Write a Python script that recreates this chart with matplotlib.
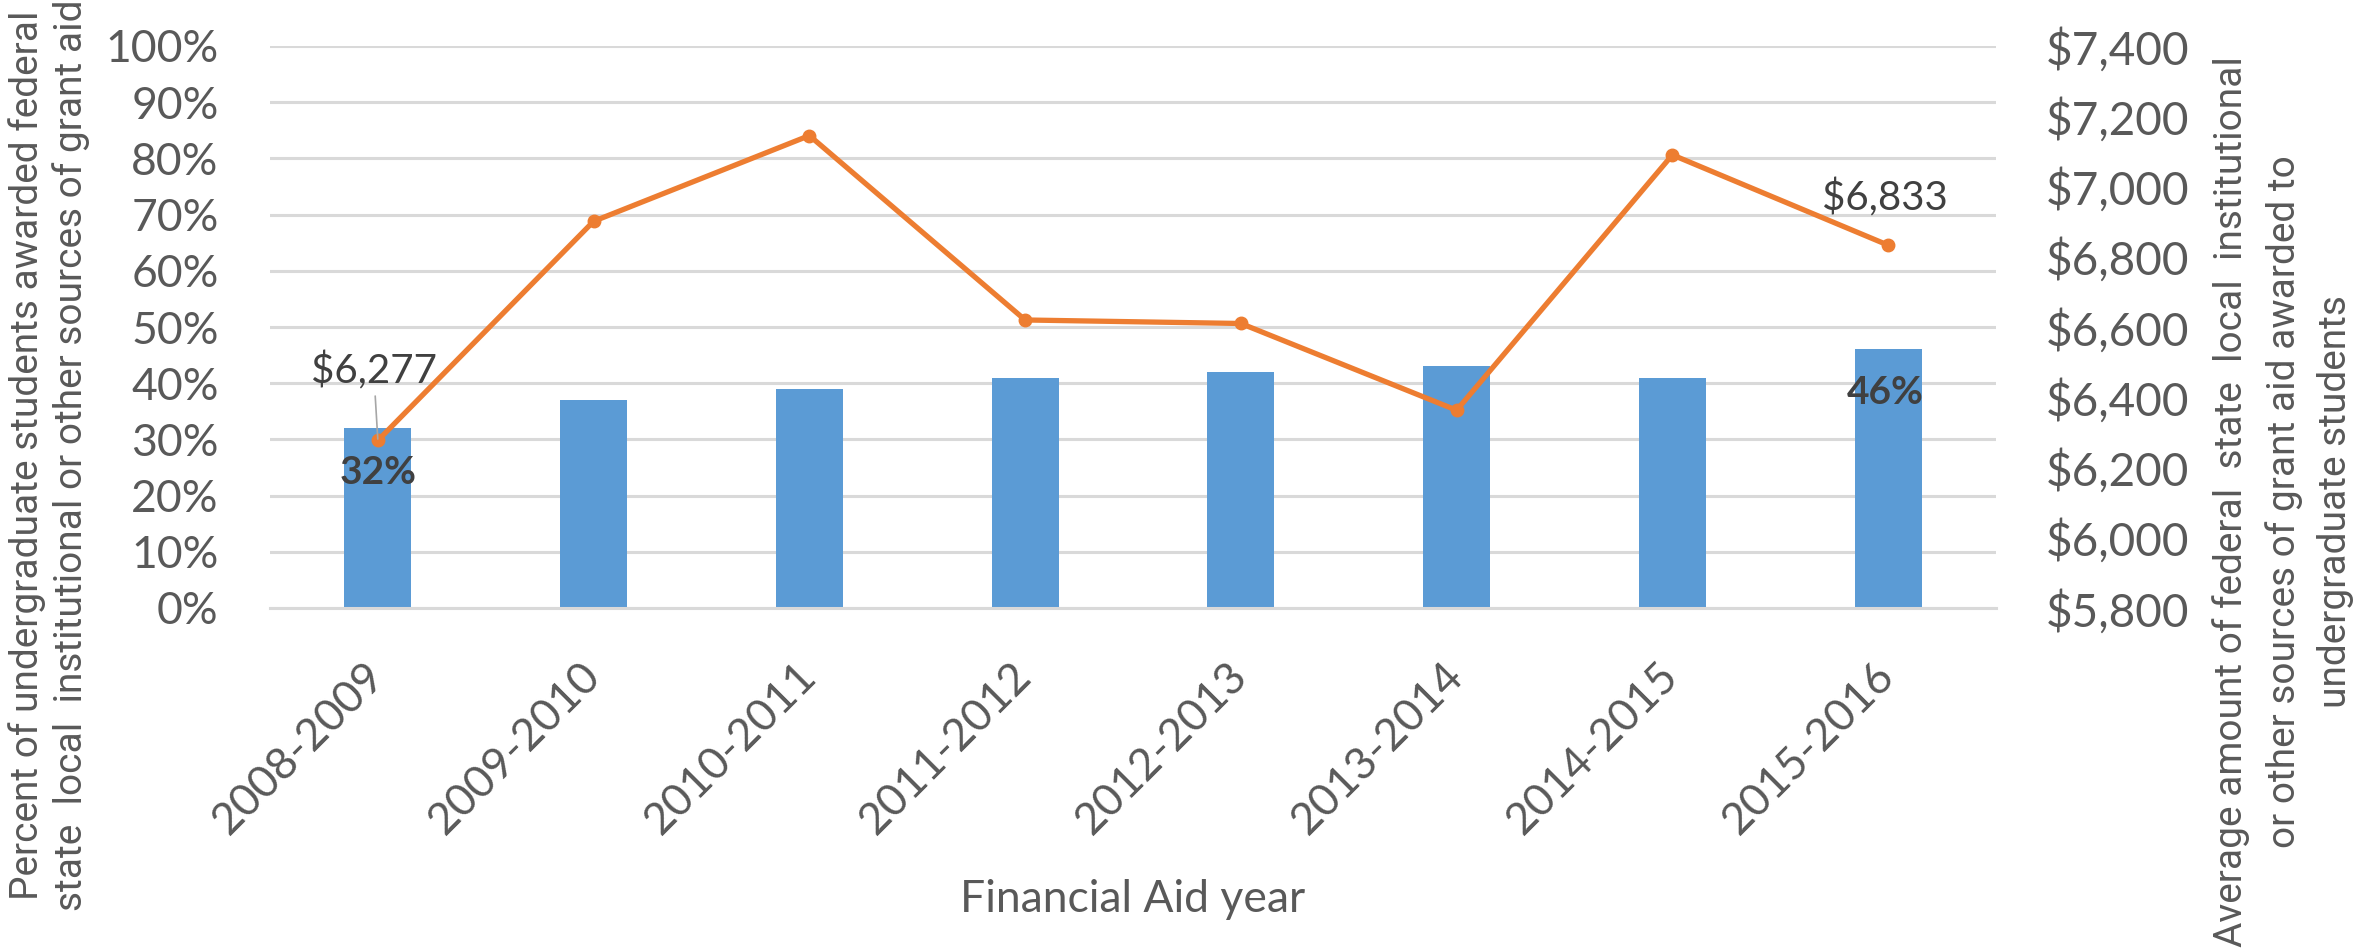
import matplotlib
matplotlib.use('Agg')
import matplotlib.pyplot as plt
from matplotlib.ticker import FixedLocator, FuncFormatter

years = ['2008-2009', '2009-2010', '2010-2011', '2011-2012',
         '2012-2013', '2013-2014', '2014-2015', '2015-2016']
pct_awarded = [32, 37, 39, 41, 42, 43, 41, 46]
avg_amount = [6277, 6901, 7145, 6620, 6610, 6363, 7090, 6833]
pct_ticks = [0, 10, 20, 30, 40, 50, 60, 70, 80, 90, 100]
amount_ticks = [5800, 6000, 6200, 6400, 6600, 6800, 7000, 7200, 7400]

xlabel = 'Financial Aid year'
ylabel_left = ('Percent of undergraduate students awarded federal\n'
               'state  local  institutional or other sources of grant aid')
ylabel_right = ('Average amount of federal  state  local  institutional\n'
                'or other sources of grant aid awarded to\n'
                'undergraduate students')

BAR = '#5B9BD5'
LINE = '#ED7D31'
TICK = '#595959'
LAB = '#404040'
GRID = '#D9D9D9'
FONT = ['Lato', 'DejaVu Sans']
NARROW = ['Liberation Sans Narrow', 'Roboto', 'DejaVu Sans']

plt.rcParams['font.family'] = FONT

fig = plt.figure(figsize=(23.56, 9.52), dpi=100)
ax = fig.add_axes([270 / 2356, 1 - 608 / 952, 1726 / 2356, 562 / 952])
ax2 = ax.twinx()

x = list(range(len(years)))
ax.bar(x, pct_awarded, width=0.31, color=BAR, zorder=2)
ax.set_xlim(-0.5, len(years) - 0.5)
ax.set_ylim(0, 100)
ax.yaxis.set_major_locator(FixedLocator(pct_ticks))
ax.yaxis.set_major_formatter(FuncFormatter(lambda v, p: f'{v:.0f}%'))
ax.grid(axis='y', color=GRID, linewidth=2.2, zorder=0)
ax.set_axisbelow(True)
for s in ['top', 'right', 'left']:
    ax.spines[s].set_visible(False)
ax.spines['bottom'].set_color(GRID)
ax.spines['bottom'].set_linewidth(2.2)
for s in ax2.spines.values():
    s.set_visible(False)

ax.set_xticks(x)
ax.set_xticklabels(years, rotation=45, ha='right', va='center',
                   rotation_mode='anchor')
ax.tick_params(axis='x', length=0, pad=44, labelsize=32, labelcolor=TICK)
ax.tick_params(axis='y', length=0, pad=37, labelsize=32, labelcolor=TICK)

ax2.plot(x, avg_amount, color=LINE, linewidth=3.8, marker='o',
         markersize=9, zorder=3)
ax2.set_ylim(amount_ticks[0], amount_ticks[-1])
ax2.yaxis.set_major_locator(FixedLocator(amount_ticks))
ax2.yaxis.set_major_formatter(FuncFormatter(lambda v, p: f'${v:,.0f}'))
ax2.tick_params(axis='y', length=0, pad=36, labelsize=33, labelcolor=TICK)

# data labels (first and last)
ax2.annotate(f'${avg_amount[0]:,}', xy=(x[0], avg_amount[0]),
             xytext=(-3, 50), textcoords='offset points',
             ha='center', va='center', fontsize=29, color=LAB,
             arrowprops=dict(arrowstyle='-', color='#A6A6A6', lw=1.2,
                             shrinkA=2, shrinkB=1))
ax2.annotate(f'${avg_amount[-1]:,}', xy=(x[-1], avg_amount[-1]),
             xytext=(-2, 34), textcoords='offset points',
             ha='center', va='center', fontsize=29, color=LAB)
ax.annotate(f'{pct_awarded[0]}%', xy=(x[0], pct_awarded[0]),
            xytext=(0, -32), textcoords='offset points',
            ha='center', va='center', fontsize=28, fontweight='bold',
            color=LAB, zorder=5)
ax.annotate(f'{pct_awarded[-1]}%', xy=(x[-1], pct_awarded[-1]),
            xytext=(-2, -31), textcoords='offset points',
            ha='center', va='center', fontsize=28, fontweight='bold',
            color=LAB, zorder=5)

ax.set_xlabel(xlabel, fontsize=32, color=TICK, va='center')
ax.xaxis.set_label_coords(0.5, (608 - 899) / 562)

ax.set_ylabel(ylabel_left, fontsize=28, color=TICK, family=NARROW,
              va='center', ha='center', multialignment='center',
              linespacing=1.2)
ax.yaxis.set_label_coords((49 - 270) / 1726, (608 - 455) / 562)

ax2.set_ylabel(ylabel_right, fontsize=28, color=TICK, family=NARROW,
               rotation=90, va='center', ha='center',
               multialignment='center', linespacing=1.5)
ax2.yaxis.set_label_coords((2283 - 270) / 1726, (608 - 502) / 562)

fig.savefig('out.png', dpi=100, facecolor='white')
